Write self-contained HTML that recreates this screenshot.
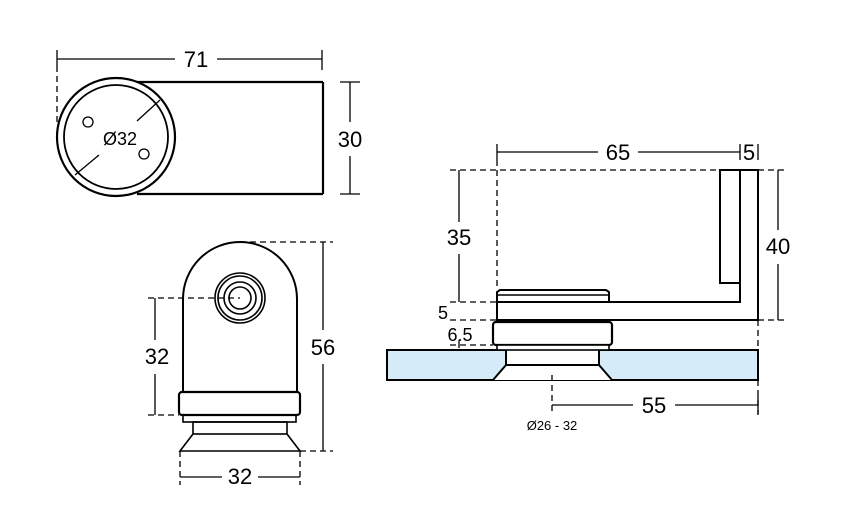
<!DOCTYPE html>
<html><head><style>body{margin:0;background:#fff}svg{display:block}</style></head><body>
<svg width="850" height="529" viewBox="0 0 850 529" xmlns="http://www.w3.org/2000/svg" font-family="Liberation Sans, Arial, sans-serif">
<g stroke="#000" fill="none" stroke-width="1.3">
<line x1="57" y1="59" x2="175" y2="59"/><line x1="217" y1="59" x2="322" y2="59"/>
<line x1="57" y1="50" x2="57" y2="66"/><line x1="322" y1="50" x2="322" y2="70"/>
<line x1="57" y1="66" x2="57" y2="122" stroke-dasharray="6,4"/>
<line x1="137" y1="82" x2="323" y2="82" stroke-width="2.2"/>
<line x1="137" y1="194" x2="323" y2="194" stroke-width="2.2"/>
<line x1="323" y1="82" x2="323" y2="194" stroke-width="2.2"/>
<circle cx="116" cy="137" r="59" fill="#fff" stroke-width="2.2"/>
<circle cx="116" cy="137" r="52" stroke-width="1.8"/>
<circle cx="88" cy="122" r="5"/><circle cx="144" cy="154" r="5"/>
<line x1="160" y1="100" x2="137" y2="121"/><line x1="99" y1="155" x2="75" y2="175"/>
<line x1="350" y1="82" x2="350" y2="122"/><line x1="350" y1="156" x2="350" y2="194"/>
<line x1="340" y1="82" x2="360" y2="82"/><line x1="340" y1="194" x2="360" y2="194"/>
<path d="M183 392 V299 A57 57 0 0 1 297 299 V392" stroke-width="2"/>
<rect x="179" y="392" width="121" height="23" rx="3" stroke-width="2.2"/>
<rect x="183" y="415" width="113" height="7" stroke-width="1.6"/>
<rect x="193" y="422" width="94" height="12" stroke-width="1.6"/>
<path d="M193 434 L180 451 H300 L287 434" stroke-width="1.6"/>
<circle cx="240" cy="298" r="25" stroke-width="1.6"/><circle cx="240" cy="298" r="22" stroke-width="1.6"/>
<circle cx="240" cy="298" r="16" stroke-width="1.6"/><circle cx="240" cy="298" r="11" stroke-width="1.6"/>
<line x1="148" y1="298" x2="240" y2="298" stroke-dasharray="6,4"/>
<line x1="148" y1="415" x2="179" y2="415" stroke-dasharray="6,4"/>
<line x1="155" y1="298" x2="155" y2="340"/><line x1="155" y1="374" x2="155" y2="415"/>
<line x1="240" y1="242" x2="333" y2="242" stroke-dasharray="6,4"/>
<line x1="300" y1="451" x2="333" y2="451" stroke-dasharray="6,4"/>
<line x1="323" y1="242" x2="323" y2="330"/><line x1="323" y1="364" x2="323" y2="451"/>
<line x1="180" y1="451" x2="180" y2="485" stroke-dasharray="6,4"/>
<line x1="300" y1="451" x2="300" y2="485" stroke-dasharray="6,4"/>
<line x1="180" y1="477" x2="222" y2="477"/><line x1="258" y1="477" x2="300" y2="477"/>
<line x1="497" y1="152" x2="598" y2="152"/><line x1="638" y1="152" x2="740" y2="152"/>
<line x1="497" y1="144" x2="497" y2="160"/><line x1="740" y1="144" x2="740" y2="160"/><line x1="758" y1="144" x2="758" y2="160"/>
<line x1="497" y1="160" x2="497" y2="290" stroke-dasharray="6,4"/>
<line x1="450" y1="170" x2="720" y2="170" stroke-dasharray="6,4"/>
<line x1="758" y1="170" x2="788" y2="170" stroke-dasharray="6,4"/>
<line x1="450" y1="302" x2="497" y2="302" stroke-dasharray="6,4"/>
<line x1="450" y1="320" x2="497" y2="320" stroke-dasharray="6,4"/>
<line x1="758" y1="320" x2="788" y2="320" stroke-dasharray="6,4"/>
<line x1="459" y1="170" x2="459" y2="222"/><line x1="459" y1="254" x2="459" y2="302"/>
<line x1="778" y1="170" x2="778" y2="230"/><line x1="778" y1="264" x2="778" y2="320"/>
<rect x="720" y="170" width="20" height="113" stroke-width="2"/>
<path d="M740 170 H758 V320 H497 V302 H740 Z" stroke-width="2"/>
<path d="M497 302 V292 L500 290 H606 L609 292 V302" stroke-width="2"/>
<line x1="497" y1="295" x2="609" y2="295" stroke-width="1.6"/>
<rect x="387" y="350" width="371" height="30" fill="#d6ebf8" stroke-width="2"/>
<path d="M506 350 V365 L493 380 H612 L599 365 V350 Z" fill="#fff" stroke="none"/>
<path d="M506 350 V365 H599 V350 M506 365 L493 380 M599 365 L612 380" stroke-width="2"/>
<rect x="493" y="322" width="119" height="23" rx="3" fill="#fff" stroke-width="2.2"/>
<rect x="497" y="345" width="112" height="5" fill="#fff" stroke-width="1.6"/>
<line x1="450" y1="345" x2="493" y2="345" stroke-dasharray="6,4"/>
<line x1="459" y1="340" x2="459" y2="348"/>
<line x1="758" y1="320" x2="758" y2="415" stroke-dasharray="6,4"/>
<line x1="552" y1="375" x2="552" y2="412" stroke-dasharray="6,4"/>
<line x1="552" y1="405" x2="633" y2="405"/><line x1="675" y1="405" x2="758" y2="405"/>
<line x1="758" y1="396" x2="758" y2="414"/>
</g>
<g fill="#000" font-size="22" text-anchor="middle">
<text x="196" y="67">71</text>
<text x="120" y="145" font-size="18">Ø32</text>
<text x="350" y="147">30</text>
<text x="157" y="364">32</text>
<text x="323" y="355">56</text>
<text x="240" y="484">32</text>
<text x="618" y="160">65</text>
<text x="749" y="160">5</text>
<text x="459" y="245">35</text>
<text x="778" y="254">40</text>
<text x="443" y="319" font-size="18">5</text>
<text x="460" y="341" font-size="18">6.5</text>
<text x="654" y="413">55</text>
<text x="552" y="430" font-size="13">Ø26 - 32</text>
</g>
</svg>
</body></html>
